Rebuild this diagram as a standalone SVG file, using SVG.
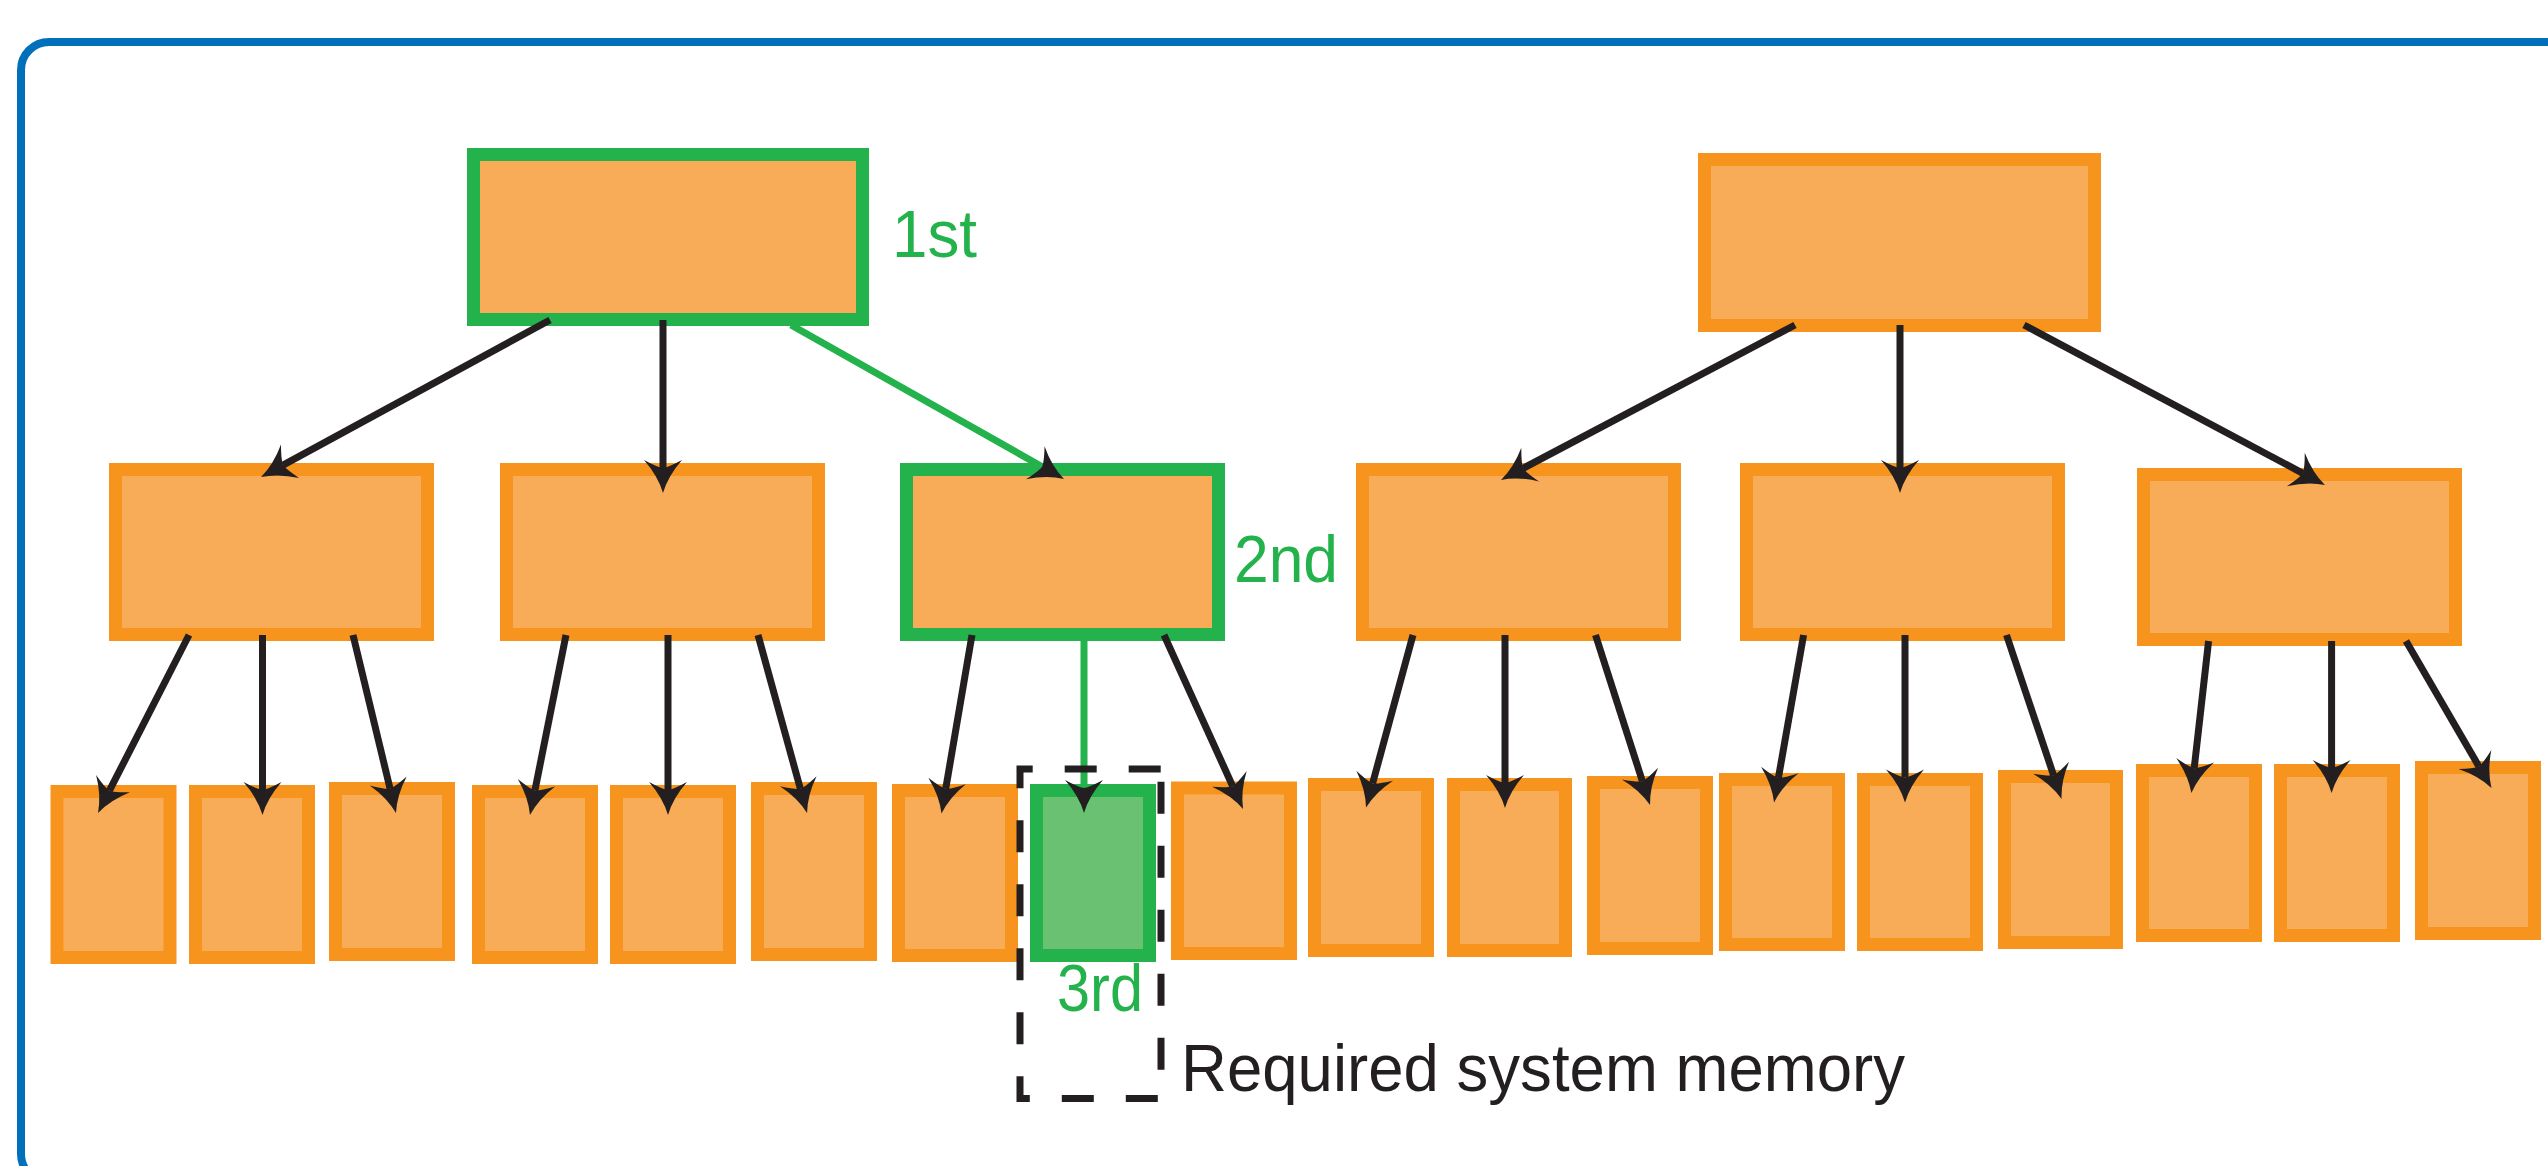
<svg xmlns="http://www.w3.org/2000/svg" width="2548" height="1166" viewBox="0 0 2548 1166">
  <style>
    .node { fill: #F8AC58; stroke: #F7941E; stroke-width: 13; }
    .node.hl { stroke: #23B24B; }
    .leaf.hl { fill: #69C171; stroke: #23B24B; }
    .edge { fill: none; stroke: #231F20; stroke-width: 7; marker-end: url(#head); }
    .edge.hl { stroke: #23B24B; }
    .tag { font-family: "Liberation Sans", Arial, sans-serif; font-size: 67px; fill: #23B24B; }
    .note { font-family: "Liberation Sans", Arial, sans-serif; font-size: 67px; fill: #231F20; }
  </style>
  <defs>
    <!-- barbed arrowhead: notch at origin, tip 25 ahead -->
    <marker id="head" markerUnits="userSpaceOnUse" orient="auto" refX="0" refY="0" markerWidth="80" markerHeight="80" viewBox="-40 -40 80 80" overflow="visible">
      <path d="M25,0 Q8,-5 -8,-19 Q-1,-6 0,0 Q-1,6 -8,19 Q8,5 25,0 Z" fill="#231F20"/>
    </marker>
  </defs>

  <rect width="2548" height="1166" fill="#FFFFFF"/>

  <!-- outer frame -->
  <rect id="frame" x="21" y="42" width="2600" height="1140" rx="28" ry="28" fill="none" stroke="#0070BA" stroke-width="8"/>

  <!-- root nodes -->
  <g id="root-a"><rect class="node hl" x="473.5" y="154.5" width="389" height="165"/></g>
  <g id="root-b"><rect class="node" x="1704.5" y="159.5" width="390" height="166"/></g>

  <!-- inner nodes -->
  <g id="mid-1"><rect class="node" x="115.5" y="469.5" width="312" height="165"/></g>
  <g id="mid-2"><rect class="node" x="506.5" y="469.5" width="312" height="165"/></g>
  <g id="mid-3"><rect class="node hl" x="906.5" y="469.5" width="312" height="165"/></g>
  <g id="mid-4"><rect class="node" x="1362.5" y="469.5" width="312" height="165"/></g>
  <g id="mid-5"><rect class="node" x="1746.5" y="469.5" width="312" height="165"/></g>
  <g id="mid-6"><rect class="node" x="2143.5" y="474.5" width="312" height="165"/></g>

  <!-- leaves -->
  <g id="leaf-1"><rect class="node" x="57" y="791.5" width="113" height="166"/></g>
  <g id="leaf-2"><rect class="node" x="195.5" y="791.5" width="113" height="166"/></g>
  <g id="leaf-3"><rect class="node" x="335.5" y="788.5" width="113" height="166"/></g>
  <g id="leaf-4"><rect class="node" x="478.5" y="791.5" width="113" height="166"/></g>
  <g id="leaf-5"><rect class="node" x="616.5" y="791.5" width="113" height="166"/></g>
  <g id="leaf-6"><rect class="node" x="757.5" y="788.5" width="113" height="166"/></g>
  <g id="leaf-7"><rect class="node" x="898.5" y="790.5" width="113" height="165"/></g>
  <g id="leaf-8"><rect class="node leaf hl" x="1036.5" y="790.5" width="113" height="165"/></g>
  <g id="leaf-9"><rect class="node" x="1177.5" y="788" width="113" height="165.5"/></g>
  <g id="leaf-10"><rect class="node" x="1314.5" y="784.5" width="113" height="166"/></g>
  <g id="leaf-11"><rect class="node" x="1453.5" y="784.5" width="112" height="166"/></g>
  <g id="leaf-12"><rect class="node" x="1593.5" y="782.5" width="113" height="166"/></g>
  <g id="leaf-13"><rect class="node" x="1725.5" y="779.5" width="113" height="165"/></g>
  <g id="leaf-14"><rect class="node" x="1863.5" y="779.5" width="113" height="165"/></g>
  <g id="leaf-15"><rect class="node" x="2004.5" y="776.5" width="112" height="166"/></g>
  <g id="leaf-16"><rect class="node" x="2142.5" y="770.5" width="113" height="165"/></g>
  <g id="leaf-17"><rect class="node" x="2280.5" y="770.5" width="113" height="165"/></g>
  <g id="leaf-18"><rect class="node" x="2421.5" y="767.5" width="113" height="166"/></g>

  <!-- connectors -->
  <g id="connectors">
    <line class="edge" x1="550" y1="320" x2="283" y2="465.1"/>
    <line class="edge" x1="663" y1="320" x2="663" y2="468"/>
    <line class="edge hl" x1="791" y1="325" x2="1042.2" y2="466.7"/>

    <line class="edge" x1="1795" y1="325" x2="1523.1" y2="468.3"/>
    <line class="edge" x1="1900" y1="325" x2="1900" y2="468"/>
    <line class="edge" x1="2024" y1="325" x2="2302.9" y2="473.3"/>

    <line class="edge" x1="189" y1="635" x2="109.4" y2="790.7"/>
    <line class="edge" x1="262.5" y1="635" x2="262.5" y2="790"/>
    <line class="edge" x1="353" y1="635" x2="390.1" y2="788.7"/>

    <line class="edge" x1="566" y1="635" x2="534.9" y2="790.5"/>
    <line class="edge" x1="668" y1="635" x2="668" y2="790"/>
    <line class="edge" x1="758" y1="635" x2="800.4" y2="788.9"/>

    <line class="edge" x1="972" y1="635" x2="945.7" y2="788.9"/>
    <line class="edge hl" x1="1084" y1="641" x2="1084" y2="788"/>
    <line class="edge" x1="1164" y1="635" x2="1232.7" y2="786.2"/>

    <line class="edge" x1="1413" y1="635" x2="1372.6" y2="783.4"/>
    <line class="edge" x1="1505" y1="635" x2="1505" y2="783"/>
    <line class="edge" x1="1595.5" y1="635" x2="1642.4" y2="781.2"/>

    <line class="edge" x1="1803.6" y1="635" x2="1778.4" y2="777.9"/>
    <line class="edge" x1="1905" y1="635" x2="1905" y2="777.5"/>
    <line class="edge" x1="2006.5" y1="635" x2="2053.6" y2="775.3"/>

    <line class="edge" x1="2208.6" y1="641" x2="2194.2" y2="768.2"/>
    <line class="edge" x1="2331.6" y1="641" x2="2331.6" y2="768"/>
    <line class="edge" x1="2406" y1="641" x2="2478.9" y2="766.4"/>
  </g>

  <!-- memory window -->
  <path id="memory-window" d="M1161,769 V1098.5 H1020 V769 Z" fill="none" stroke="#231F20" stroke-width="7" stroke-dasharray="32 32" stroke-dashoffset="51.3" stroke-linejoin="miter"/>

  <!-- labels -->
  <text class="tag" x="892" y="257" textLength="85" lengthAdjust="spacingAndGlyphs">1st</text>
  <text class="tag" x="1234" y="582" textLength="104" lengthAdjust="spacingAndGlyphs">2nd</text>
  <text class="tag" x="1057" y="1011" textLength="86" lengthAdjust="spacingAndGlyphs">3rd</text>
  <text class="note" x="1181" y="1091" textLength="724" lengthAdjust="spacingAndGlyphs">Required system memory</text>
</svg>
